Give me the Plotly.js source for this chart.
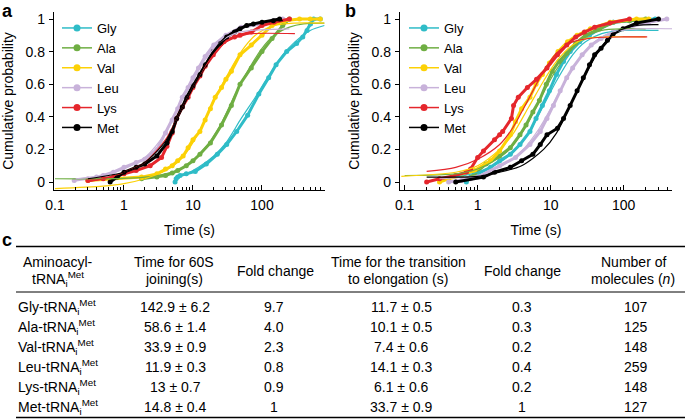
<!DOCTYPE html>
<html><head><meta charset="utf-8">
<script src="https://cdn.plot.ly/plotly-3.0.1.min.js"></script>
<style>html,body{margin:0;padding:0;background:#fff}#chart{width:685px;height:419px}</style>
</head><body><div id="chart"></div>
<script>
// ---------- series names & colours ----------
var aminoAcids = ['Gly', 'Ala', 'Val', 'Leu', 'Lys', 'Met'];
var seriesColors = ['#2fbcc7', '#6fae43', '#fcd106', '#c8b2da', '#e5262c', '#000000'];

// ---------- panel a: 60S joining ----------
var joinGlyT = [5.5, 5.7, 6, 6.5, 8, 10.8, 15.6, 22.5, 30.8, 43, 62, 90, 125, 160, 228, 318, 390, 450, 505, 560, 700];
var joinGlyP = [0.0, 0.02, 0.03, 0.04, 0.05, 0.065, 0.11, 0.17, 0.23, 0.31, 0.41, 0.54, 0.64, 0.72, 0.80, 0.85, 0.89, 0.93, 0.97, 1.0, 1.0];
var joinAlaT = [1.8, 3, 4, 5, 6, 8, 10, 12.6, 17.9, 25.9, 36, 48, 70, 100, 140, 200, 250];
var joinAlaP = [0.02, 0.03, 0.04, 0.055, 0.07, 0.1, 0.13, 0.17, 0.24, 0.35, 0.47, 0.6, 0.70, 0.80, 0.88, 0.96, 1.0];
var joinValT = [0.3, 1.8, 3, 4, 5, 6, 7.2, 8.5, 10, 12.6, 15, 17.9, 21, 25.9, 30, 36, 48, 70, 100, 140, 210, 350, 500, 700];
var joinValP = [0.01, 0.03, 0.05, 0.08, 0.1, 0.13, 0.16, 0.21, 0.26, 0.31, 0.38, 0.45, 0.52, 0.58, 0.63, 0.68, 0.78, 0.84, 0.9, 0.96, 0.99, 1.0, 1.0, 1.0];
var joinLeuT = [0.19, 0.3, 0.4, 0.5, 0.7, 1, 1.5, 2, 3, 4, 5, 6, 7, 8.5, 10, 12, 15, 20, 30, 50, 100, 150, 200];
var joinLeuP = [0.01, 0.02, 0.03, 0.04, 0.06, 0.09, 0.12, 0.14, 0.2, 0.3, 0.38, 0.45, 0.52, 0.58, 0.64, 0.7, 0.77, 0.84, 0.9, 0.95, 0.97, 0.99, 1.0];
var joinLysT = [0.3, 0.5, 0.7, 1, 1.5, 2.4, 3.5, 4.2, 5, 5.8, 7, 8.5, 10, 12.6, 15, 19.7, 28, 40, 48, 70, 100, 150, 250];
var joinLysP = [0.01, 0.02, 0.03, 0.05, 0.07, 0.1, 0.15, 0.22, 0.3, 0.39, 0.46, 0.52, 0.58, 0.65, 0.71, 0.78, 0.86, 0.89, 0.9, 0.92, 0.96, 0.98, 1.0];
var joinMetT = [0.63, 0.8, 1, 1.5, 2, 3, 4.2, 5, 5.8, 7, 8.1, 10, 12.6, 15, 19.7, 25, 30.8, 40, 48, 60, 75, 100, 146, 180];
var joinMetP = [0.0, 0.03, 0.06, 0.09, 0.11, 0.16, 0.24, 0.31, 0.39, 0.46, 0.52, 0.59, 0.66, 0.72, 0.80, 0.85, 0.89, 0.92, 0.94, 0.96, 0.97, 0.98, 0.99, 1.0];

// fitted curves, panel a
var joinGlyFitT = [5.5, 8, 12, 20, 30, 50, 80, 120, 200, 300, 500, 800];
var joinGlyFitP = [0.03, 0.05, 0.09, 0.16, 0.24, 0.39, 0.52, 0.64, 0.78, 0.86, 0.93, 0.96];
var joinAlaFitT = [0.1, 1, 2, 4, 8, 15, 25, 40, 60, 100, 150, 250, 400, 800];
var joinAlaFitP = [0.02, 0.022, 0.03, 0.05, 0.1, 0.21, 0.35, 0.53, 0.67, 0.82, 0.9, 0.95, 0.97, 0.975];
var joinValFitT = [0.1, 0.5, 1, 2, 4, 7, 12, 20, 30, 50, 80, 150, 300, 800];
var joinValFitP = [-0.04, -0.025, -0.01, 0.02, 0.07, 0.15, 0.3, 0.5, 0.64, 0.8, 0.9, 0.96, 0.975, 0.975];
var joinLeuFitT = [0.2, 0.5, 1, 2, 4, 6, 10, 15, 25, 40, 70, 250];
var joinLeuFitP = [0.02, 0.04, 0.08, 0.15, 0.3, 0.45, 0.62, 0.75, 0.86, 0.91, 0.93, 0.94];
var joinLysFitT = [0.3, 0.5, 1, 2, 4, 6, 10, 15, 25, 40, 70, 300];
var joinLysFitP = [0.0, 0.02, 0.06, 0.12, 0.26, 0.4, 0.58, 0.71, 0.83, 0.89, 0.91, 0.91];
var joinMetFitT = [0.3, 0.6, 1, 2, 4, 6, 10, 15, 25, 40, 70, 150, 200];
var joinMetFitP = [0.02, 0.04, 0.06, 0.12, 0.25, 0.4, 0.58, 0.72, 0.86, 0.93, 0.97, 0.99, 0.99];

// ---------- panel b: transition to elongation ----------
var elongGlyT = [0.7, 0.8, 1, 1.5, 2, 2.8, 3.8, 5.2, 6.3, 7.7, 9.6, 12, 15, 18.5, 25, 34, 47, 72, 120, 270];
var elongGlyP = [0.0, 0.03, 0.05, 0.09, 0.13, 0.17, 0.23, 0.31, 0.39, 0.47, 0.56, 0.66, 0.74, 0.80, 0.86, 0.9, 0.94, 0.98, 0.99, 1.0];
var elongAlaT = [0.75, 0.9, 1.3, 2, 2.8, 3.8, 4.6, 5.7, 7, 8.7, 10.5, 13, 16.6, 22, 30, 47, 72, 120, 200];
var elongAlaP = [0.02, 0.05, 0.11, 0.16, 0.21, 0.29, 0.35, 0.43, 0.5, 0.6, 0.68, 0.74, 0.79, 0.85, 0.9, 0.94, 0.98, 0.99, 1.0];
var elongValT = [0.3, 0.4, 0.6, 0.9, 1.5, 2, 2.8, 3.3, 4, 5.2, 6.3, 7.7, 9.6, 12.6, 17, 23, 35, 65, 150, 220];
var elongValP = [0.0, 0.02, 0.04, 0.07, 0.13, 0.19, 0.29, 0.37, 0.45, 0.52, 0.6, 0.66, 0.73, 0.80, 0.86, 0.9, 0.94, 0.98, 1.0, 1.0];
var elongLeuT = [0.4, 0.6, 0.8, 1, 2, 3.3, 5.2, 7.2, 8.9, 10.9, 13.5, 16.6, 20, 27, 36, 49, 72, 120, 220, 390];
var elongLeuP = [0.0, 0.01, 0.02, 0.03, 0.1, 0.15, 0.23, 0.31, 0.39, 0.47, 0.56, 0.64, 0.70, 0.78, 0.84, 0.88, 0.92, 0.95, 0.98, 1.0];
var elongLysT = [0.2, 0.3, 0.5, 0.7, 0.8, 1, 1.2, 1.7, 2, 2.2, 2.9, 3.1, 3.6, 4.8, 6.4, 8.9, 12.4, 16.6, 22, 29, 40, 65, 120];
var elongLysP = [0.0, 0.02, 0.04, 0.06, 0.08, 0.15, 0.19, 0.26, 0.29, 0.31, 0.39, 0.47, 0.52, 0.58, 0.63, 0.70, 0.78, 0.84, 0.89, 0.92, 0.95, 0.975, 1.0];
var elongMetT = [0.5, 1.2, 1.7, 2.8, 4, 5.7, 7.2, 8.9, 12.4, 15, 18.5, 23, 28, 34, 40, 49, 60, 72, 98, 150, 300];
var elongMetP = [0.0, 0.03, 0.06, 0.09, 0.13, 0.17, 0.23, 0.29, 0.33, 0.39, 0.47, 0.56, 0.64, 0.72, 0.78, 0.82, 0.87, 0.91, 0.94, 0.975, 1.0];

// fitted curves, panel b
var elongGlyFitT = [0.5, 1, 2, 3, 5, 8, 12, 20, 30, 50, 100, 300];
var elongGlyFitP = [0.03, 0.06, 0.12, 0.18, 0.3, 0.47, 0.62, 0.78, 0.86, 0.91, 0.93, 0.93];
var elongAlaFitT = [0.1, 0.5, 1, 2, 3, 5, 8, 12, 20, 30, 50, 100, 200];
var elongAlaFitP = [0.04, 0.05, 0.08, 0.15, 0.22, 0.37, 0.55, 0.69, 0.82, 0.89, 0.93, 0.94, 0.94];
var elongValFitT = [0.09, 0.5, 1, 2, 3, 5, 8, 12, 20, 30, 60, 200];
var elongValFitP = [0.035, 0.06, 0.1, 0.2, 0.29, 0.46, 0.62, 0.74, 0.84, 0.88, 0.89, 0.89];
var elongLeuFitT = [0.3, 1, 2, 4, 7, 10, 15, 25, 40, 70, 150, 480];
var elongLeuFitP = [0.02, 0.04, 0.09, 0.19, 0.33, 0.45, 0.6, 0.76, 0.86, 0.92, 0.94, 0.94];
var elongLysFitT = [0.2, 0.5, 1, 2, 3, 5, 8, 12, 20, 40, 100, 210];
var elongLysFitP = [0.065, 0.09, 0.14, 0.23, 0.33, 0.51, 0.68, 0.79, 0.86, 0.885, 0.89, 0.89];
var elongMetFitT = [0.2, 0.5, 1, 2, 4, 8, 12, 20, 30, 50, 80, 150, 300];
var elongMetFitP = [0.03, 0.03, 0.035, 0.06, 0.1, 0.2, 0.3, 0.5, 0.66, 0.83, 0.92, 0.96, 0.965];

// ---------- axis ticks ----------
var xTickVals = [0.1, 1, 10, 100];
var xTickText = ['0.1', '1', '10', '100'];
var xMinorVals = [0.2, 0.3, 0.4, 0.5, 0.6, 0.7, 0.8, 0.9, 2, 3, 4, 5, 6, 7, 8, 9, 20, 30, 40, 50, 60, 70, 80, 90, 200, 300, 400, 500, 600, 700, 800, 900];
var yTickVals = [0, 0.2, 0.4, 0.6, 0.8, 1];
var yTickText = ['0', '0.2', '0.4', '0.6', '0.8', '1'];

// ---------- table (panel c) ----------
var tableHeaderTop = ['Aminoacyl-', 'Time for 60S', 'Fold change', 'Time for the transition', 'Fold change', 'Number of'];
var tableHeaderBottom = ['tRNA<sub>i</sub><sup>Met</sup>', 'joining(s)', '', 'to elongation (s)', '', 'molecules (<i>n</i>)'];
var joinMean = [142.9, 58.6, 33.9, 11.9, 13, 14.8];
var joinErr = [6.2, 1.4, 0.9, 0.3, 0.7, 0.4];
var joinFold = ['9.7', '4.0', '2.3', '0.8', '0.9', '1'];
var elongMean = [11.7, 10.1, 7.4, 14.1, 6.1, 33.7];
var elongErr = [0.5, 0.5, 0.6, 0.3, 0.6, 0.9];
var elongFold = ['0.3', '0.3', '0.2', '0.4', '0.2', '1'];
var nMolecules = [107, 125, 148, 259, 148, 127];

// ================= build =================
var W = 685, H = 419;
var FONT = 'Liberation Sans, Arial, Helvetica, sans-serif';
function fx(p) { return p / W; }
function fy(p) { return 1 - p / H; }

var joinPts = [[joinGlyT, joinGlyP], [joinAlaT, joinAlaP], [joinValT, joinValP], [joinLeuT, joinLeuP], [joinLysT, joinLysP], [joinMetT, joinMetP]];
var joinFit = [[joinGlyFitT, joinGlyFitP], [joinAlaFitT, joinAlaFitP], [joinValFitT, joinValFitP], [joinLeuFitT, joinLeuFitP], [joinLysFitT, joinLysFitP], [joinMetFitT, joinMetFitP]];
var elongPts = [[elongGlyT, elongGlyP], [elongAlaT, elongAlaP], [elongValT, elongValP], [elongLeuT, elongLeuP], [elongLysT, elongLysP], [elongMetT, elongMetP]];
var elongFit = [[elongGlyFitT, elongGlyFitP], [elongAlaFitT, elongAlaFitP], [elongValFitT, elongValFitP], [elongLeuFitT, elongLeuFitP], [elongLysFitT, elongLysFitP], [elongMetFitT, elongMetFitP]];

var traces = [];
function addPanel(pts, fits, xa, ya, leg) {
  for (var i = 0; i < aminoAcids.length; i++) {
    traces.push({x: pts[i][0], y: pts[i][1], xaxis: xa, yaxis: ya, type: 'scatter', mode: 'lines+markers',
      line: {color: seriesColors[i], width: 3}, marker: {color: seriesColors[i], size: 5},
      showlegend: false, hoverinfo: 'skip'});
  }
  for (var j = 0; j < aminoAcids.length; j++) {
    traces.push({x: fits[j][0], y: fits[j][1], xaxis: xa, yaxis: ya, type: 'scatter', mode: 'lines',
      line: {color: seriesColors[j], width: 1.2, shape: 'spline', smoothing: 0.8},
      showlegend: false, hoverinfo: 'skip'});
  }
  for (var k = 0; k < aminoAcids.length; k++) {
    traces.push({x: [null], y: [null], xaxis: xa, yaxis: ya, type: 'scatter', mode: 'lines+markers',
      name: aminoAcids[k], legend: leg,
      line: {color: seriesColors[k], width: 1.5}, marker: {color: seriesColors[k], size: 7}});
  }
}
addPanel(joinPts, joinFit, 'x', 'y', 'legend');
addPanel(elongPts, elongFit, 'x2', 'y2', 'legend2');

function xAxis(domain, range) {
  return {type: 'log', domain: domain, range: range, showline: true, linecolor: '#000', linewidth: 1.2,
    ticks: 'inside', ticklen: 5, tickwidth: 1, tickcolor: '#000', tickmode: 'array', tickvals: xTickVals, ticktext: xTickText,
    minor: {tickmode: 'array', tickvals: xMinorVals, ticks: 'inside', ticklen: 3, tickwidth: 1, tickcolor: '#000', showgrid: false},
    showgrid: false, zeroline: false, tickfont: {family: FONT, size: 14, color: '#000'}, ticklabelstandoff: 2,
    title: {text: 'Time (s)', font: {family: FONT, size: 14, color: '#000'}, standoff: 13}};
}
function yAxis(domain, anchor) {
  return {domain: domain, anchor: anchor, range: [-0.049, 1.043], showline: true, linecolor: '#000', linewidth: 1.2,
    ticks: 'outside', ticklen: 4, tickwidth: 1, tickcolor: '#000', tickmode: 'array', tickvals: yTickVals, ticktext: yTickText,
    showgrid: false, zeroline: false, tickfont: {family: FONT, size: 14, color: '#000'}, ticklabelstandoff: 1,
    title: {text: 'Cumulative probability', font: {family: FONT, size: 14, color: '#000'}, standoff: 8}};
}
var yDom = [fy(190), fy(12)];

var annotations = [];
var shapes = [];
function panelLabel(t, x, y) {
  annotations.push({text: '<b>' + t + '</b>', xref: 'paper', yref: 'paper', x: fx(x), y: fy(y), xanchor: 'left', yanchor: 'middle',
    showarrow: false, font: {family: FONT, size: 18, color: '#000'}});
}
panelLabel('a', 0, 11);
panelLabel('b', 343, 11);
panelLabel('c', 0, 240);

function cell(text, x, y, anchor) {
  annotations.push({text: text, xref: 'paper', yref: 'paper', x: fx(x), y: fy(y), xanchor: anchor || 'center', yanchor: 'middle',
    showarrow: false, font: {family: FONT, size: 14, color: '#000'}});
}
var colX = [58, 174, 275, 398, 522, 633];
for (var c = 0; c < colX.length; c++) {
  if (tableHeaderBottom[c]) {
    cell(tableHeaderTop[c], colX[c], 262);
    cell(tableHeaderBottom[c], colX[c], 279);
  } else {
    cell(tableHeaderTop[c], colX[c], 271);
  }
}
for (var r = 0; r < aminoAcids.length; r++) {
  var yy = 307 + 19.9 * r;
  cell(aminoAcids[r] + '-tRNA<sub>i</sub><sup>Met</sup>', 16, yy, 'left');
  cell(joinMean[r] + ' ± ' + joinErr[r], 175, yy);
  cell(joinFold[r], 274, yy);
  cell(elongMean[r] + ' ± ' + elongErr[r], 401, yy);
  cell(elongFold[r], 522, yy);
  cell(String(nMolecules[r]), 636, yy);
}
function rule(y, w) {
  shapes.push({type: 'line', xref: 'paper', yref: 'paper', x0: fx(16), x1: fx(685), y0: fy(y), y1: fy(y), line: {color: '#000', width: w}});
}
rule(246.5, 1.6);
rule(292, 1);
rule(417.5, 1.6);

var legendBase = {bgcolor: 'rgba(0,0,0,0)', borderwidth: 0, font: {family: FONT, size: 13, color: '#000'},
  xanchor: 'left', yanchor: 'top', tracegroupgap: 0, itemclick: false};
var layout = {
  width: W, height: H, margin: {l: 0, r: 0, t: 0, b: 0}, paper_bgcolor: '#fff', plot_bgcolor: 'rgba(0,0,0,0)',
  font: {family: FONT, size: 14, color: '#000'},
  xaxis: xAxis([fx(54), fx(325)], [-1.014, 2.913]),
  yaxis: yAxis(yDom, 'x'),
  xaxis2: xAxis([fx(400), fx(672)], [-1.064, 2.662]),
  yaxis2: yAxis(yDom, 'x2'),
  legend: Object.assign({}, legendBase, {x: fx(57), y: fy(13)}),
  legend2: Object.assign({}, legendBase, {x: fx(404), y: fy(13)}),
  annotations: annotations, shapes: shapes, showlegend: true
};
layout.xaxis.anchor = 'y';
layout.xaxis2.anchor = 'y2';
Plotly.newPlot('chart', traces, layout, {displayModeBar: false, staticPlot: true});
</script></body></html>
